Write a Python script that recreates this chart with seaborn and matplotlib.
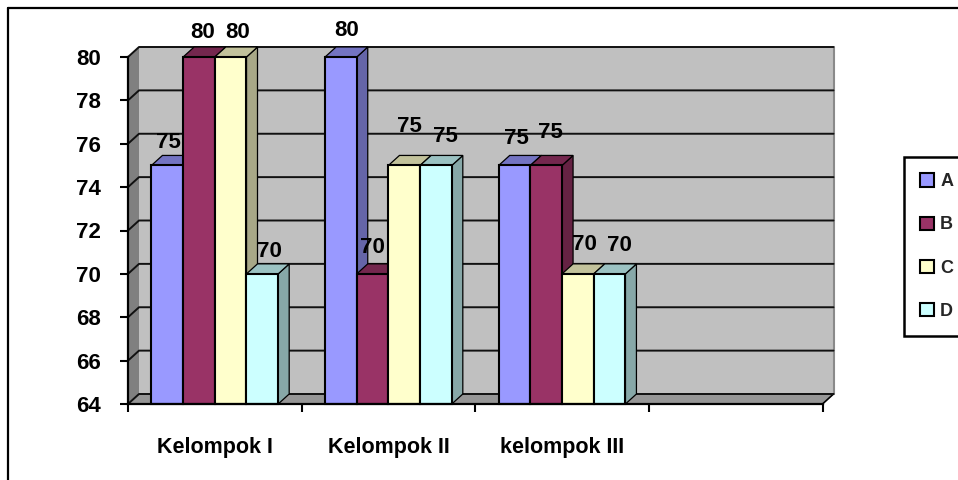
import numpy as np
import pandas as pd
import seaborn as sns
import matplotlib
matplotlib.use("Agg")
import matplotlib.pyplot as plt
from matplotlib.patches import Polygon, Patch
from matplotlib.lines import Line2D
from matplotlib.ticker import FixedLocator
from matplotlib.colors import to_rgb

categories = ["Kelompok I", "Kelompok II", "kelompok III", " "]
series = ["A", "B", "C", "D"]
values_a = [75, 80, 75, np.nan]
values_b = [80, 70, 75, np.nan]
values_c = [80, 75, 70, np.nan]
values_d = [70, 75, 70, np.nan]
colors = ["#9999FF", "#993366", "#FFFFCC", "#CCFFFF"]
label_dx_px = [1, 4, 7, 7.5, 6, 0, 5, 9, 2, 4, 7, 10]
label_dy_px = [23, 24.5, 24.5, 22, 27, 26, 39, 29, 27, 33, 29, 28]

W, H = 958, 480
sns.set_theme(style="white")
plt.rcParams["font.family"] = ["Liberation Sans", "DejaVu Sans"]
plt.rcParams["font.weight"] = "bold"

df = pd.DataFrame({
    "kelompok": categories * 4,
    "seri": [s for s in series for _ in categories],
    "nilai": values_a + values_b + values_c + values_d,
})

fig = plt.figure(figsize=(W / 100, H / 100), dpi=100)
L, R, T, B = 128, 822.5, 57, 404
ax = fig.add_axes([L / W, 1 - B / H, (R - L) / W, (B - T) / H])
sns.barplot(data=df, x="kelompok", y="nilai", hue="seri", order=categories,
            hue_order=series, palette=colors, width=0.73, gap=0, saturation=1,
            edgecolor="black", linewidth=1.5, legend=False, ax=ax)
ax.set_xlim(-0.5, 3.5)
ax.set_ylim(64, 80)
ax.set_xlabel("")
ax.set_ylabel("")
ymin, ymax = ax.get_ylim()
xmin, xmax = ax.get_xlim()
ppx = (xmax - xmin) / (R - L)
ppy = (ymax - ymin) / (B - T)
dx, dy = 11 * ppx, 10 * ppy


def poly(pts, fc, z, ec="none", lw=0):
    ax.add_patch(Polygon(pts, closed=True, facecolor=fc, edgecolor=ec, linewidth=lw,
                         zorder=z, clip_on=False, joinstyle="miter"))


# walls
poly([(xmin + dx, ymin + dy), (xmax + dx, ymin + dy), (xmax + dx, ymax + dy), (xmin + dx, ymax + dy)], "#C0C0C0", 0.1)
poly([(xmin, ymin), (xmin + dx, ymin + dy), (xmin + dx, ymax + dy), (xmin, ymax)], "#808080", 0.2)
poly([(xmin, ymin), (xmax, ymin), (xmax + dx, ymin + dy), (xmin + dx, ymin + dy)], "#969696", 0.2)
ax.plot([xmax + dx, xmax + dx], [ymin + dy, ymax + dy], color="#8A8A8A", lw=1.5, zorder=0.3, clip_on=False)
ax.plot([xmax, xmax + dx], [ymin, ymin + dy], color="black", lw=1.2, zorder=0.3, clip_on=False)

# gridlines on the walls
for v in np.arange(64, 81, 2):
    ax.plot([xmin, xmin + dx, xmax + dx], [v, v + dy, v + dy],
            color="#111111", lw=1.4, zorder=0.5, clip_on=False)

# 3D faces taken from the bars that seaborn drew
bars = [p for p in ax.patches if isinstance(p, matplotlib.patches.Rectangle)
        and np.isfinite(p.get_height()) and p.get_height() > 0]
bars.sort(key=lambda p: p.get_x())
for i, p in enumerate(bars):
    x0, w, v = p.get_x(), p.get_width(), p.get_height()
    x1 = x0 + w
    rgb = np.array(to_rgb(p.get_facecolor()[:3]))
    z = 2 + i
    poly([(x1, ymin), (x1 + dx, ymin + dy), (x1 + dx, v + dy), (x1, v)], rgb * 0.66, z, "black", 0.9)
    poly([(x0, v), (x1, v), (x1 + dx, v + dy), (x0 + dx, v + dy)], rgb * 0.76, z, "black", 0.9)
    p.set_y(ymin)
    p.set_height(v - ymin)
    p.set_clip_on(False)
    p.set_zorder(z + 0.5)
    ax.annotate(f"{v:.0f}", (x0 + w / 2, v),
                xytext=(label_dx_px[i] * 0.72, label_dy_px[i] * 0.72),
                textcoords="offset points", ha="center", va="center",
                fontsize=16, fontweight="bold", color="black", zorder=40,
                annotation_clip=False)

# axes
for s in ["top", "right"]:
    ax.spines[s].set_visible(False)
for s in ["left", "bottom"]:
    ax.spines[s].set_linewidth(1.6)
    ax.spines[s].set_color("black")
    ax.spines[s].set_zorder(35)
ax.set_yticks(np.arange(64, 81, 2))
ax.tick_params(axis="y", which="major", left=True, length=5.5, width=1.5, color="black",
               labelsize=16, pad=14, labelcolor="black")
ax.xaxis.set_minor_locator(FixedLocator(np.arange(-0.5, 4, 1)))
ax.tick_params(axis="x", which="major", bottom=False, length=0, labelsize=15.5, pad=24,
               labelcolor="black")
ax.tick_params(axis="x", which="minor", bottom=True, length=5.5, width=1.5, color="black")
for t in ax.get_xticklabels() + ax.get_yticklabels():
    t.set_fontweight("bold")

# legend
handles = [Patch(facecolor=c, edgecolor="black", linewidth=1.5) for c in colors]
leg = fig.legend(handles, series, loc="upper left",
                 bbox_to_anchor=(904 / W, 1 - 157 / H), bbox_transform=fig.transFigure,
                 frameon=True, fancybox=False, edgecolor="black", framealpha=1,
                 prop={"size": 13, "weight": "bold", "family": "Liberation Sans"},
                 handlelength=0.75, handleheight=0.75, handletextpad=0.35,
                 labelspacing=1.45, borderpad=0.9, borderaxespad=0)
leg.get_frame().set_linewidth(1.8)

# outer chart frame (runs off the picture on the right and bottom)
fig.add_artist(Line2D([8 / W, 8 / W], [0, 1 - 8 / H], color="black", lw=1.6))
fig.add_artist(Line2D([8 / W, 1], [1 - 8 / H, 1 - 8 / H], color="black", lw=1.6))

fig.savefig("out.png", dpi=100)
